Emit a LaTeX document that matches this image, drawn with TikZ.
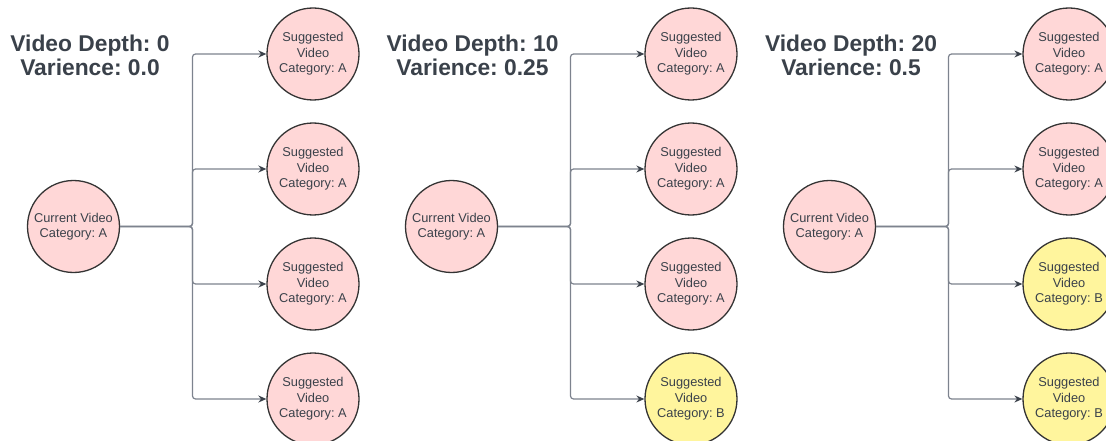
\documentclass[tikz,border=0pt]{standalone}
\usepackage{fontspec}
\setmainfont{Liberation Sans}
\usetikzlibrary{arrows.meta}
\frenchspacing
\definecolor{ink}{HTML}{3A414A}
\definecolor{edge}{HTML}{333333}
\definecolor{wire}{HTML}{7D838E}
\definecolor{pinkfill}{HTML}{FFD7D7}
\definecolor{yellowfill}{HTML}{FFF59D}
\tikzset{
  video/.style={circle, draw=edge, line width=1.3pt, minimum size=92pt, inner sep=0pt,
    align=center, text=ink, font=\fontsize{12.8}{15.5}\selectfont},
  catA/.style={video, fill=pinkfill},
  catB/.style={video, fill=yellowfill},
  heading/.style={anchor=base, text=ink, inner sep=0pt, font=\fontsize{22.8}{24}\selectfont\bfseries},
  link/.style={draw=wire, line width=1.2pt, rounded corners=3pt,
    -{Stealth[length=8pt, width=7pt, color=ink]}},
}
\begin{document}
\begin{tikzpicture}[x=1pt, y=-1pt]
\useasboundingbox (0,0) rectangle (1106,441);
\clip (0,0) rectangle (1106,441);

% panel headings
\node[heading] (h1a) at (90,51.7) {Video Depth: 0};
\node[heading] (h1b) at (90,76) {Varience: 0.0};
\node[heading] (h2a) at (472.5,51.7) {Video Depth: 10};
\node[heading] (h2b) at (472.5,76) {Varience: 0.25};
\node[heading] (h3a) at (851,51.7) {Video Depth: 20};
\node[heading] (h3b) at (851,76) {Varience: 0.5};

% one panel: current video, four suggestions, orthogonal fan-out
% #1 = panel prefix, #2 = horizontal offset, then style and letter of suggestions 1-2, 3 and 4
\newcommand{\videopanel}[8]{%
  \begin{scope}[xshift=#2]
    \node[catA] (#1c) at (73.5,226.5) {Current Video\\Category: A};
    \node[#3] (#1s1) at (313,54) {Suggested\\Video\\Category: #4};
    \node[#3] (#1s2) at (313,169) {Suggested\\Video\\Category: #4};
    \node[#5] (#1s3) at (313,284) {Suggested\\Video\\Category: #6};
    \node[#7] (#1s4) at (313,399) {Suggested\\Video\\Category: #8};
    \coordinate (#1j) at (192.5,226.5);
    \foreach \k in {1,...,4}{
      \draw[link] (#1c.east) -- (#1j) |- (#1s\k.west);
    }
  \end{scope}
}

\videopanel{p}{0pt}{catA}{A}{catA}{A}{catA}{A}
\videopanel{q}{378pt}{catA}{A}{catA}{A}{catB}{B}
\videopanel{r}{756pt}{catA}{A}{catB}{B}{catB}{B}
\end{tikzpicture}
\end{document}
